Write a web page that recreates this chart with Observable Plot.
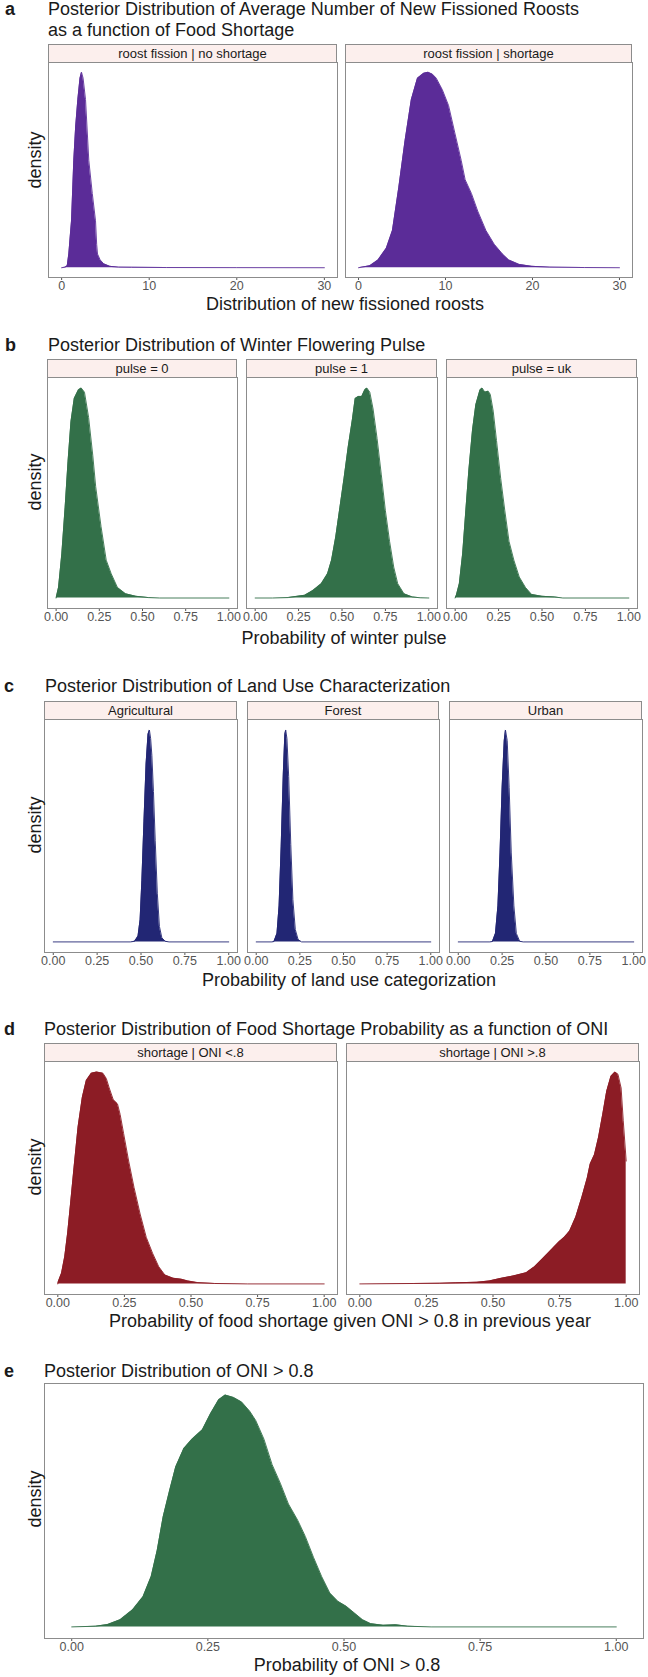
<!DOCTYPE html>
<html>
<head>
<meta charset="utf-8">
<script src="https://cdn.jsdelivr.net/npm/d3@7"></script>
<script src="https://cdn.jsdelivr.net/npm/@observablehq/plot@0.6"></script>
<style>
html,body{margin:0;padding:0;background:#fff;overflow:hidden;}
#root{position:relative;width:648px;height:1677px;overflow:hidden;font-family:"Liberation Sans",Arial,Helvetica,sans-serif;color:#1a1a1a;}
.t{position:absolute;white-space:nowrap;line-height:1;}
.strip{position:absolute;box-sizing:border-box;background:#fcefed;border:1px solid #8c8c8c;border-bottom:1.5px solid #3a3a3a;font-size:13px;line-height:1;display:flex;align-items:center;justify-content:center;color:#1a1a1a;white-space:nowrap;}
.facet{position:absolute;}
.facet svg{max-width:none;}
</style>
</head>
<body>
<div id="root"></div>
<script>
// ---------------- DATA ----------------
// Panel a: average number of new fissioned roosts (relative density)
const aStrips = ["roost fission | no shortage", "roost fission | shortage"];
const aNoShortX = [0, 0.4, 0.64, 0.82, 1.0, 1.13, 1.39, 1.6, 1.85, 2.1, 2.27, 2.45, 2.73, 3.1, 3.5, 3.87, 4.0, 4.1, 4.4, 4.8, 5.5, 6.5, 8, 12, 20, 30];
const aNoShortY = [0, 0.003, 0.01, 0.07, 0.17, 0.24, 0.55, 0.72, 0.86, 0.97, 1.0, 0.97, 0.86, 0.55, 0.38, 0.24, 0.12, 0.07, 0.04, 0.02, 0.007, 0.003, 0.002, 0.001, 0.0005, 0];
const aShortX = [0, 1.3, 2.25, 3.2, 3.9, 4.63, 5.35, 6.07, 6.78, 7.5, 8.0, 8.5, 8.93, 9.64, 10.35, 11.07, 11.8, 12.26, 12.98, 13.7, 14.65, 15.6, 16.55, 17.27, 18.47, 19.9, 22, 26, 30];
const aShortY = [0, 0.01, 0.04, 0.10, 0.19, 0.41, 0.65, 0.86, 0.97, 0.995, 1.0, 0.99, 0.97, 0.91, 0.83, 0.69, 0.55, 0.45, 0.38, 0.29, 0.19, 0.12, 0.07, 0.04, 0.017, 0.007, 0.003, 0.001, 0];

// Panel b: winter flowering pulse
const bStrips = ["pulse = 0", "pulse = 1", "pulse = uk"];
const b0X = [0, 0.014, 0.033, 0.052, 0.069, 0.086, 0.105, 0.129, 0.145, 0.164, 0.188, 0.212, 0.229, 0.26, 0.29, 0.319, 0.355, 0.402, 0.462, 0.533, 0.6, 1];
const b0Y = [0, 0.05, 0.21, 0.43, 0.65, 0.84, 0.95, 0.99, 1.0, 0.98, 0.86, 0.68, 0.53, 0.34, 0.18, 0.115, 0.05, 0.02, 0.008, 0.002, 0, 0];
const b1X = [0, 0.1, 0.19, 0.286, 0.333, 0.381, 0.417, 0.44, 0.464, 0.488, 0.512, 0.536, 0.56, 0.576, 0.595, 0.614, 0.631, 0.643, 0.66, 0.679, 0.702, 0.726, 0.75, 0.774, 0.798, 0.821, 0.857, 0.905, 0.95, 1];
const b1Y = [0, 0, 0.002, 0.013, 0.036, 0.068, 0.115, 0.18, 0.29, 0.43, 0.57, 0.72, 0.85, 0.95, 0.96, 0.96, 0.99, 1.0, 0.98, 0.9, 0.76, 0.59, 0.415, 0.27, 0.147, 0.068, 0.02, 0.005, 0.001, 0];
const bUkX = [0, 0.007, 0.024, 0.043, 0.06, 0.079, 0.1, 0.119, 0.143, 0.155, 0.171, 0.19, 0.202, 0.219, 0.238, 0.262, 0.286, 0.31, 0.338, 0.369, 0.405, 0.44, 0.5, 0.571, 0.62, 1];
const bUkY = [0, 0.013, 0.068, 0.21, 0.4, 0.61, 0.8, 0.92, 0.99, 1.0, 0.98, 0.985, 0.97, 0.89, 0.75, 0.57, 0.415, 0.27, 0.18, 0.1, 0.05, 0.017, 0.008, 0.005, 0, 0];

// Panel c: land use characterization
const cStrips = ["Agricultural", "Forest", "Urban"];
const cAgX = [0, 0.44, 0.464, 0.483, 0.495, 0.505, 0.517, 0.529, 0.54, 0.548, 0.555, 0.562, 0.571, 0.581, 0.593, 0.605, 0.619, 0.638, 0.66, 1];
const cAgY = [0, 0, 0.003, 0.027, 0.105, 0.29, 0.57, 0.84, 0.98, 1.0, 0.96, 0.88, 0.71, 0.48, 0.23, 0.073, 0.019, 0.003, 0, 0];
const cForX = [0, 0.09, 0.102, 0.119, 0.131, 0.143, 0.155, 0.164, 0.169, 0.176, 0.186, 0.198, 0.21, 0.224, 0.24, 0.26, 1];
const cForY = [0, 0, 0.002, 0.04, 0.17, 0.45, 0.79, 0.98, 1.0, 0.96, 0.78, 0.46, 0.2, 0.058, 0.011, 0, 0];
const cUrbX = [0, 0.18, 0.195, 0.212, 0.226, 0.238, 0.25, 0.262, 0.269, 0.279, 0.29, 0.302, 0.317, 0.331, 0.35, 0.37, 1];
const cUrbY = [0, 0, 0.002, 0.04, 0.17, 0.42, 0.73, 0.95, 1.0, 0.95, 0.73, 0.42, 0.17, 0.04, 0.003, 0, 0];

// Panel d: food shortage probability vs ONI
const dStrips = ["shortage | ONI <.8", "shortage | ONI >.8"];
const dLowX = [0, 0.002, 0.014, 0.026, 0.037, 0.048, 0.061, 0.076, 0.092, 0.107, 0.126, 0.146, 0.169, 0.182, 0.193, 0.208, 0.224, 0.234, 0.247, 0.266, 0.286, 0.309, 0.332, 0.356, 0.379, 0.402, 0.433, 0.464, 0.488, 0.526, 0.589, 0.713, 1];
const dLowY = [0, 0.011, 0.05, 0.128, 0.24, 0.38, 0.55, 0.74, 0.88, 0.96, 0.995, 1.0, 0.995, 0.97, 0.925, 0.87, 0.85, 0.8, 0.71, 0.58, 0.456, 0.33, 0.22, 0.144, 0.081, 0.042, 0.027, 0.022, 0.014, 0.006, 0.002, 0, 0];
const dHighX = [0, 0.2, 0.3, 0.36, 0.44, 0.486, 0.532, 0.579, 0.625, 0.656, 0.687, 0.718, 0.749, 0.768, 0.788, 0.811, 0.834, 0.854, 0.865, 0.881, 0.896, 0.912, 0.927, 0.943, 0.958, 0.969, 0.981, 0.989, 1.0];
const dHighY = [0, 0.002, 0.003, 0.005, 0.008, 0.014, 0.027, 0.038, 0.053, 0.081, 0.12, 0.16, 0.2, 0.22, 0.25, 0.316, 0.41, 0.5, 0.566, 0.61, 0.69, 0.8, 0.91, 0.98, 1.0, 0.99, 0.925, 0.77, 0.58];

// Panel e: ONI > 0.8
const eX = [0, 0.044, 0.066, 0.089, 0.112, 0.131, 0.146, 0.157, 0.168, 0.18, 0.191, 0.206, 0.221, 0.24, 0.255, 0.27, 0.282, 0.297, 0.312, 0.327, 0.338, 0.353, 0.368, 0.383, 0.398, 0.415, 0.429, 0.444, 0.459, 0.474, 0.489, 0.504, 0.519, 0.534, 0.549, 0.572, 0.595, 0.617, 0.66, 1];
const eY = [0, 0.003, 0.01, 0.031, 0.074, 0.13, 0.217, 0.33, 0.475, 0.59, 0.69, 0.77, 0.81, 0.85, 0.92, 0.98, 1.0, 0.99, 0.97, 0.93, 0.89, 0.81, 0.7, 0.62, 0.53, 0.46, 0.39, 0.3, 0.217, 0.146, 0.11, 0.089, 0.06, 0.031, 0.014, 0.007, 0.009, 0.003, 0, 0];

// tick labels
const ticksRoosts = [0, 10, 20, 30];
const ticksProb = [0, 0.25, 0.5, 0.75, 1];

// titles
const panelLetters = ["a", "b", "c", "d", "e"];
const titles = [
  ["Posterior Distribution of Average Number of New Fissioned Roosts", "as a function of Food Shortage"],
  ["Posterior Distribution of Winter Flowering Pulse"],
  ["Posterior Distribution of Land Use Characterization"],
  ["Posterior Distribution of Food Shortage Probability as a function of ONI"],
  ["Posterior Distribution of ONI > 0.8"]
];
const xTitles = [
  "Distribution of new fissioned roosts",
  "Probability of winter pulse",
  "Probability of land use categorization",
  "Probability of food shortage given ONI > 0.8 in previous year",
  "Probability of ONI > 0.8"
];

// ---------------- STYLE / LAYOUT ----------------
const colors = {purple: "#5b2c98", green: "#337049", navy: "#222674", red: "#8c1c25"};
const FONT = "'Liberation Sans', Arial, Helvetica, sans-serif";

const panels = [
  {letterX: 5, titleX: 48, titleBase: [15.5, 36], stripTop: 44, top: 62, bottom: 277,
   facets: [[48, 337], [345, 632]], strips: aStrips,
   series: [[aNoShortX, aNoShortY], [aShortX, aShortY]], color: colors.purple,
   xdom: [0, 30], ticks: ticksRoosts, fmt: d3.format("d"),
   xTitleX: 345, xTitleBase: 310, densityY: 160},
  {letterX: 5, titleX: 48, titleBase: [351], stripTop: 359, top: 377, bottom: 608,
   facets: [[47, 237], [246, 437], [446, 637]], strips: bStrips,
   series: [[b0X, b0Y], [b1X, b1Y], [bUkX, bUkY]], color: colors.green,
   xdom: [0, 1], ticks: ticksProb, fmt: d3.format(".2f"),
   xTitleX: 344, xTitleBase: 644.5, densityY: 482},
  {letterX: 4, titleX: 45, titleBase: [692.5], stripTop: 701, top: 719, bottom: 952,
   facets: [[44, 237], [247, 439], [449, 642]], strips: cStrips,
   series: [[cAgX, cAgY], [cForX, cForY], [cUrbX, cUrbY]], color: colors.navy,
   xdom: [0, 1], ticks: ticksProb, fmt: d3.format(".2f"),
   xTitleX: 349, xTitleBase: 986, densityY: 825},
  {letterX: 4, titleX: 44, titleBase: [1035], stripTop: 1043, top: 1061, bottom: 1294,
   facets: [[44, 337], [346, 639]], strips: dStrips,
   series: [[dLowX, dLowY], [dHighX, dHighY]], color: colors.red,
   xdom: [0, 1], ticks: ticksProb, fmt: d3.format(".2f"),
   xTitleX: 350, xTitleBase: 1327, densityY: 1167},
  {letterX: 4, titleX: 44, titleBase: [1377], stripTop: null, top: 1383, bottom: 1638,
   facets: [[44, 643]], strips: null,
   series: [[eX, eY]], color: colors.green,
   xdom: [0, 1], ticks: ticksProb, fmt: d3.format(".2f"),
   xTitleX: 347, xTitleBase: 1671.5, densityY: 1499}
];

const root = document.getElementById("root");

function text(str, x, baseline, size, opts = {}) {
  const d = document.createElement("div");
  d.className = "t";
  d.textContent = str;
  d.style.fontSize = size + "px";
  d.style.top = (baseline - 0.8465 * size) + "px";
  d.style.left = x + "px";
  if (opts.anchor === "middle") d.style.transform = "translateX(-50%)";
  if (opts.weight) d.style.fontWeight = opts.weight;
  if (opts.color) d.style.color = opts.color;
  root.appendChild(d);
}
function vtext(str, cx, cy, size) {
  const d = document.createElement("div");
  d.className = "t";
  d.textContent = str;
  d.style.fontSize = size + "px";
  d.style.left = cx + "px";
  d.style.top = cy + "px";
  d.style.transform = "translate(-50%,-50%) rotate(-90deg)";
  root.appendChild(d);
}

function facetPlot(xs, ys, x0, x1, top, bottom, p) {
  const mL = 20, mR = 20, mT = 2, mB = 26;
  const w = x1 - x0, h = bottom - top;
  const data = xs.map((x, i) => ({x, y: ys[i]}));
  const pad = (p.xdom[1] - p.xdom[0]) * 0.05;
  const svg = Plot.plot({
    width: w + mL + mR,
    height: h + mT + mB,
    marginLeft: mL, marginRight: mR, marginTop: mT, marginBottom: mB,
    style: {background: "transparent", overflow: "visible", fontFamily: FONT, fontSize: "12.5px", color: "#555"},
    x: {domain: [p.xdom[0] - pad, p.xdom[1] + pad], ticks: p.ticks, tickFormat: p.fmt, tickSize: 3, tickPadding: 1, label: null},
    y: {domain: [-0.05, 1.05], axis: null},
    marks: [
      Plot.areaY(data, {x: "x", y: "y", fill: p.color}),
      Plot.lineY(data, {x: "x", y: "y", stroke: p.color, strokeWidth: 0.9}),
      Plot.frame({stroke: "#8c8c8c"})
    ]
  });
  const wrap = document.createElement("div");
  wrap.className = "facet";
  wrap.style.left = (x0 - mL) + "px";
  wrap.style.top = (top - mT) + "px";
  wrap.appendChild(svg);
  root.appendChild(wrap);
}

panels.forEach((p, k) => {
  text(panelLetters[k], p.letterX, p.titleBase[0], 18, {weight: "bold"});
  titles[k].forEach((line, j) => text(line, p.titleX, p.titleBase[j], 18));
  p.facets.forEach(([x0, x1], i) => {
    if (p.strips) {
      const s = document.createElement("div");
      s.className = "strip";
      s.style.left = x0 + "px";
      s.style.top = p.stripTop + "px";
      s.style.width = (x1 - x0) + "px";
      s.style.height = (p.top - p.stripTop + 1) + "px";
      s.textContent = p.strips[i];
      root.appendChild(s);
    }
    facetPlot(p.series[i][0], p.series[i][1], x0, x1, p.top, p.bottom, p);
  });
  text(xTitles[k], p.xTitleX, p.xTitleBase, 18, {anchor: "middle"});
  vtext("density", 34.8, p.densityY, 18);
});
</script>
</body>
</html>
